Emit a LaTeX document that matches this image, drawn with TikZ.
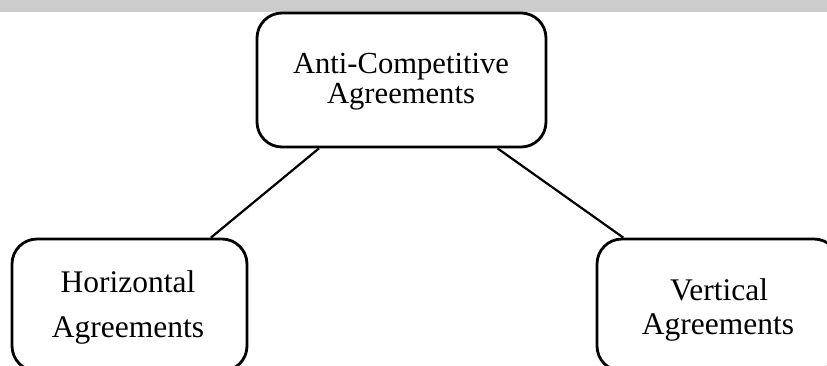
\documentclass[tikz,border=0pt]{standalone}
\usepackage{fontspec}
\setmainfont{Liberation Serif}
\begin{document}
\begin{tikzpicture}[x=1pt,y=-1pt,
  box/.style={draw=black, line width=2.8pt, rounded corners=25pt, fill=white, inner sep=0pt},
  link/.style={draw=black, line width=2.2pt},
  lbltop/.style={anchor=base, inner sep=0pt, font=\fontsize{30.6}{30}\selectfont},
  lblbot/.style={anchor=base, inner sep=0pt, font=\fontsize{31.5}{31}\selectfont}]
\useasboundingbox (0,0) rectangle (827,365);
\clip (0,0) rectangle (827,365);
\fill[black!20] (0,0) rectangle (827,12);
\node[box, minimum width=289pt, minimum height=134pt] (top) at (401.5,80) {};
\node[box, minimum width=235pt, minimum height=132pt] (left) at (129.5,305) {};
\node[box, minimum width=242pt, minimum height=132pt] (right) at (718,305) {};
\draw[link] (top) -- (left);
\draw[link] (top) -- (right);
\node[lbltop] (t1) at (401,73) {Anti-Competitive};
\node[lbltop] (t2) at (401,103) {Agreements};
\node[lblbot] (l1) at (128,292) {Horizontal};
\node[lblbot] (l2) at (128,337) {Agreements};
\node[lblbot] (r1) at (719,300) {Vertical};
\node[lblbot] (r2) at (718,334) {Agreements};
\end{tikzpicture}
\end{document}
